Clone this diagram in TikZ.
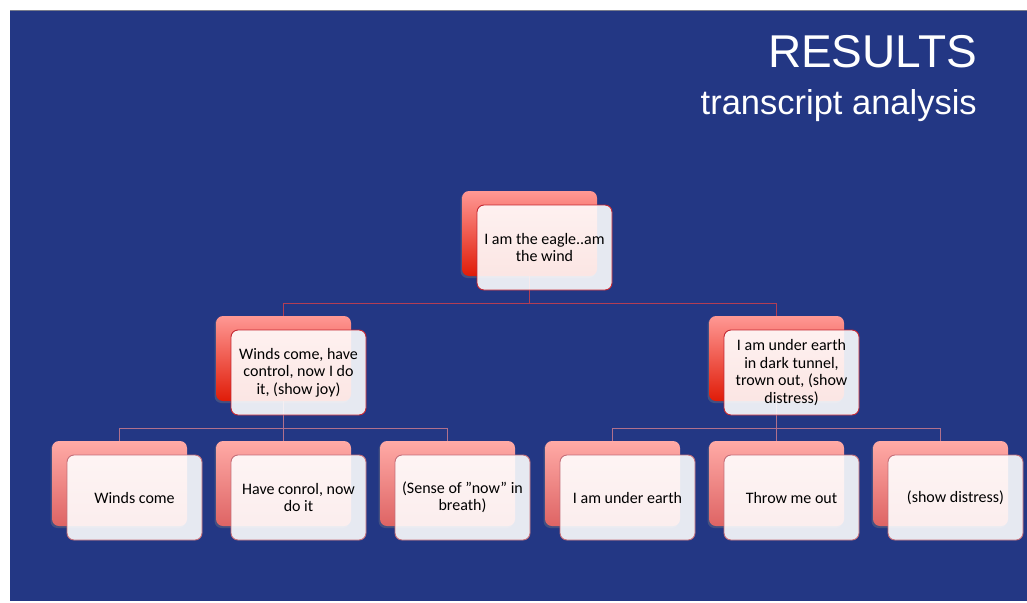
\documentclass[tikz,border=0pt]{standalone}
\usepackage{fontspec}
\setmainfont{Carlito}
\newfontfamily\titlefont{Liberation Sans}
\usetikzlibrary{shadows}
\definecolor{slidebg}{RGB}{35,55,132}
\definecolor{topline}{RGB}{120,124,140}
\definecolor{redtop}{RGB}{255,152,148}
\definecolor{redbot}{RGB}{224,28,8}
\definecolor{pinktop}{RGB}{255,170,166}
\definecolor{pinkbot}{RGB}{222,100,100}
\definecolor{frontedge}{RGB}{196,38,50}
\definecolor{frontedgeb}{RGB}{196,110,120}
\definecolor{linkA}{RGB}{178,62,84}
\definecolor{linkB}{RGB}{176,112,140}
\tikzset{
  backbox/.style={rectangle, rounded corners=7pt, minimum width=135pt, minimum height=85pt,
    draw=none, drop shadow={shadow xshift=-1.5pt, shadow yshift=-2pt, opacity=0.35}},
  backA/.style={backbox, top color=redtop, bottom color=redbot},
  backB/.style={backbox, top color=pinktop, bottom color=pinkbot},
  frontbox/.style={rectangle, rounded corners=7pt, minimum width=135pt, minimum height=85pt,
    fill=white, fill opacity=0.89, text opacity=1, line width=0.9pt, align=center,
    font=\fontsize{16}{17.5}\selectfont, text=black, inner sep=2pt},
  frontA/.style={frontbox, draw=frontedge},
  frontB/.style={frontbox, draw=frontedgeb},
  linkone/.style={draw=linkA, line width=0.8pt},
  linktwo/.style={draw=linkB, line width=0.8pt},
  titletext/.style={anchor=base east, text=white, inner sep=0pt},
}
\begin{document}
\begin{tikzpicture}[x=1pt,y=-1pt]
\useasboundingbox (0,0) rectangle (1027,602);
\fill[white] (0,0) rectangle (1027,602);
\fill[slidebg] (10,10) rectangle (1027,601);
\draw[topline, line width=1pt] (10,10.5) -- (1027,10.5);

\node[titletext, font=\titlefont\fontsize{46}{50}\selectfont] (title) at (977,67) {RESULTS};
\node[titletext, font=\titlefont\fontsize{34.5}{40}\selectfont] (subtitle) at (977,114) {transcript analysis};

% coordinates of back boxes
\coordinate (p1) at (529.5,233.5);
\coordinate (p2) at (283.5,358.5);
\coordinate (p3) at (776.5,358.5);
\coordinate (p4) at (119.5,483.5);
\coordinate (p5) at (283.5,483.5);
\coordinate (p6) at (447.5,483.5);
\coordinate (p7) at (612.5,483.5);
\coordinate (p8) at (776.5,483.5);
\coordinate (p9) at (940.5,483.5);

% connectors (behind)
\coordinate (j1) at (529.5,303);
\coordinate (j2) at (283.5,428);
\coordinate (j3) at (776.5,428);
\draw[linkone] (p1) -- (j1) -| (p2);
\draw[linkone] (j1) -| (p3);
\draw[linktwo] (p2) -- (j2) -| (p4);
\draw[linktwo] (j2) -| (p6);
\draw[linktwo] (j2) -- (p5);
\draw[linktwo] (p3) -- (j3) -| (p7);
\draw[linktwo] (j3) -| (p9);
\draw[linktwo] (j3) -- (p8);

% back boxes
\node[backA] (b1) at (p1) {};
\node[backA] (b2) at (p2) {};
\node[backA] (b3) at (p3) {};
\node[backB] (b4) at (p4) {};
\node[backB] (b5) at (p5) {};
\node[backB] (b6) at (p6) {};
\node[backB] (b7) at (p7) {};
\node[backB] (b8) at (p8) {};
\node[backB] (b9) at (p9) {};

% front boxes
\node[frontA] (f1) at ([shift={(15,14)}]p1) {I am the eagle..am\\the wind};
\node[frontA] (f2) at ([shift={(15,14)}]p2) {Winds come, have\\control, now I do\\it, (show joy)};
\node[frontA] (f3) at ([shift={(15,14)}]p3) {I am under earth\\in dark tunnel,\\trown out, (show\\distress)};
\node[frontB] (f4) at ([shift={(15,14)}]p4) {Winds come};
\node[frontB] (f5) at ([shift={(15,14)}]p5) {Have conrol, now\\do it};
\node[frontB] (f6) at ([shift={(15,14)}]p6) {(Sense of ”now” in\\breath)};
\node[frontB] (f7) at ([shift={(15,14)}]p7) {I am under earth};
\node[frontB] (f8) at ([shift={(15,14)}]p8) {Throw me out};
\node[frontB] (f9) at ([shift={(15,14)}]p9) {(show distress)};
\end{tikzpicture}
\end{document}
